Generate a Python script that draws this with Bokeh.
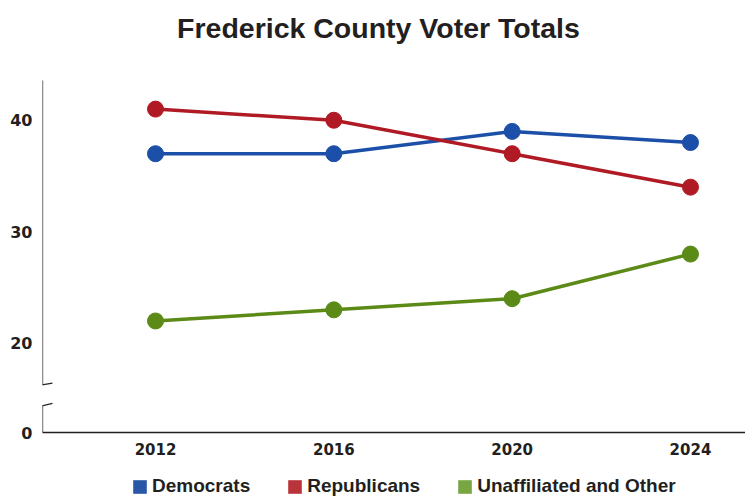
from bokeh.plotting import figure
from bokeh.layouts import column
from bokeh.models import Range1d, FixedTicker, Legend, LegendItem, ColumnDataSource, Label
from bokeh.embed import file_html
from bokeh.resources import INLINE

# ---- data ----
years = [2012, 2016, 2020, 2024]
democrats = [37, 37, 39, 38]
republicans = [41, 40, 37, 34]
unaffiliated = [22, 23, 24, 28]
series_names = ["Democrats", "Republicans", "Unaffiliated and Other"]
y_ticks = [12, 20, 30, 40]          # 12 is the position of the "0" below the axis break
y_tick_labels = {12: "0", 20: "20", 30: "30", 40: "40"}
x_tick_labels = {2012: "2012", 2016: "2016", 2020: "2020", 2024: "2024"}
title_text = "Frederick County Voter Totals"

# ---- styling / layout constants ----
line_colors = ["#1c4fa8", "#b01a24", "#5b8a17"]
swatch_colors = ["#2a56a8", "#b8333a", "#79a543"]
XSTART, XEND = 2009.465, 2025.234
YSTART, YEND = 12, 50.74          # frame reaches the top of the canvas (title lives inside it)
AXIS_TOP = 43.57                  # where the drawn y-axis line stops
TITLE_X, TITLE_Y = 2017.0, 48.25
AXIS_COLOR = "#231f20"

p = figure(width=745, height=462, output_backend="svg", toolbar_location=None,
           x_range=Range1d(XSTART, XEND), y_range=Range1d(YSTART, YEND),
           min_border_left=42, min_border_right=0, min_border_top=0, min_border_bottom=30)

p.outline_line_color = None
p.xgrid.grid_line_color = None
p.ygrid.grid_line_color = None
p.background_fill_color = "white"
p.border_fill_color = "white"

p.add_layout(Label(x=TITLE_X, y=TITLE_Y, text=title_text, text_align="center",
                   text_baseline="alphabetic", text_font="Liberation Sans",
                   text_font_style="bold", text_font_size="28.5px", text_color=AXIS_COLOR))

# x axis
xa = p.xaxis[0]
xa.ticker = FixedTicker(ticks=years)
xa.major_label_overrides = x_tick_labels
xa.major_tick_line_color = None
xa.major_tick_in = 0
xa.major_tick_out = 0
xa.minor_tick_line_color = None
xa.axis_line_color = AXIS_COLOR
xa.axis_line_width = 1.5
xa.major_label_text_font = "DejaVu Sans"
xa.major_label_text_font_style = "bold"
xa.major_label_text_font_size = "15px"
xa.major_label_text_color = AXIS_COLOR
xa.major_label_standoff = 10

# y axis
ya = p.yaxis[0]
ya.ticker = FixedTicker(ticks=y_ticks)
ya.major_label_overrides = y_tick_labels
ya.major_tick_line_color = None
ya.major_tick_in = 0
ya.major_tick_out = 0
ya.minor_tick_line_color = None
ya.axis_line_color = None
ya.major_label_text_font = "DejaVu Sans"
ya.major_label_text_font_style = "bold"
ya.major_label_text_font_size = "16px"
ya.major_label_text_color = AXIS_COLOR
ya.major_label_standoff = 10

# broken y axis line
BREAK_HI, BREAK_LO = 16.3, 14.42
p.segment(x0=[XSTART, XSTART], y0=[BREAK_HI, YSTART], x1=[XSTART, XSTART], y1=[AXIS_TOP, BREAK_LO],
          line_color=AXIS_COLOR, line_width=1.3)
p.segment(x0=[XSTART - 0.224, XSTART - 0.224], y0=[BREAK_HI - 0.15, BREAK_LO - 0.25],
          x1=[XSTART + 0.224, XSTART + 0.224], y1=[BREAK_HI + 0.12, BREAK_LO + 0.2],
          line_color=AXIS_COLOR, line_width=1.3)

# series
for vals, col in zip([democrats, republicans, unaffiliated], line_colors):
    p.line(years, vals, line_color=col, line_width=3.5)
    p.scatter(years, vals, size=16, fill_color=col, line_color=col, marker="circle")

# legend strip (separate small figure under the chart)
lg = figure(width=745, height=35, output_backend="svg", toolbar_location=None,
            x_axis_type=None, y_axis_type=None, x_range=Range1d(0, 1), y_range=Range1d(0, 1),
            min_border_left=0, min_border_right=0, min_border_top=0, min_border_bottom=0)
lg.outline_line_color = None
lg.xgrid.grid_line_color = None
lg.ygrid.grid_line_color = None
items = []
for name, col in zip(series_names, swatch_colors):
    # one off-screen placeholder box per series so the legend has a swatch to draw
    src = ColumnDataSource(dict(left=[5], right=[6], top=[6], bottom=[5]))
    r = lg.quad(left="left", right="right", top="top", bottom="bottom", source=src,
                fill_color=col, line_color=None)
    items.append(LegendItem(label=name, renderers=[r]))

legend = Legend(items=items, orientation="horizontal", location=(89, 0),
                glyph_width=17, glyph_height=17, label_standoff=4, spacing=36,
                padding=0, margin=0, border_line_color=None, background_fill_alpha=0,
                label_text_font="Liberation Sans", label_text_font_style="bold",
                label_text_font_size="19px", label_text_color=AXIS_COLOR)
lg.add_layout(legend, "center")

layout = column(p, lg, spacing=0)
open("out.html", "w").write(file_html(layout, INLINE))
